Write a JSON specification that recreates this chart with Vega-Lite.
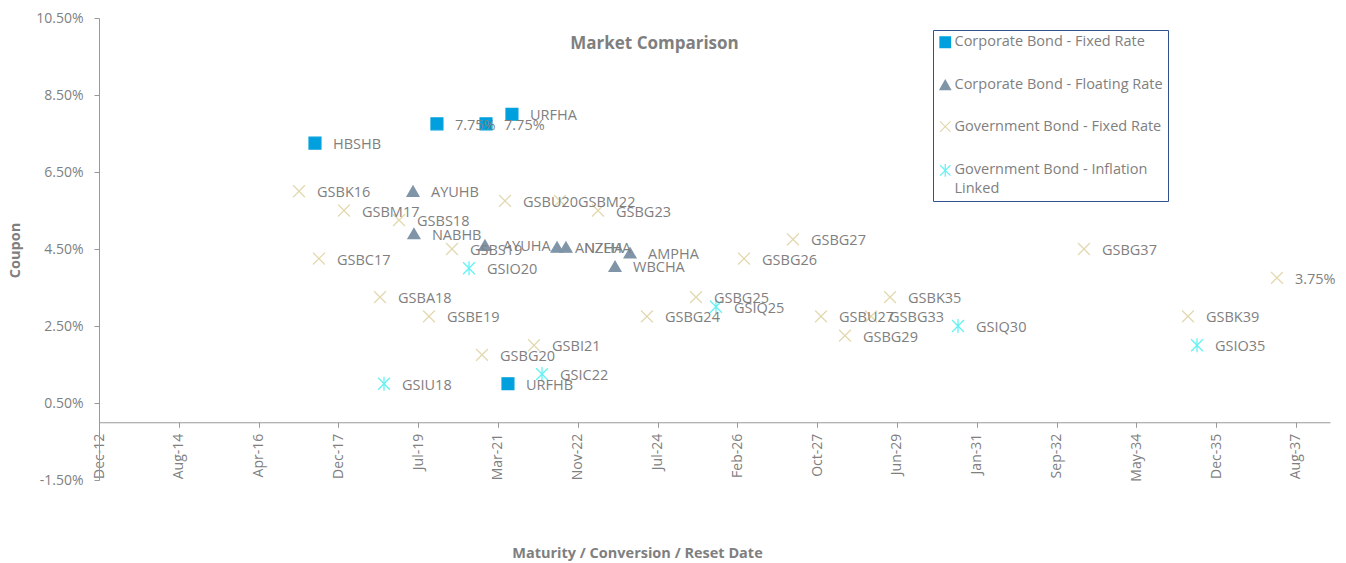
{
  "$schema": "https://vega.github.io/schema/vega-lite/v6.json",
  "width": 1231,
  "height": 462,
  "autosize": {"type": "none"},
  "padding": {"left": 99, "top": 18, "right": 16, "bottom": 83},
  "background": "white",
  "config": {"view": {"stroke": null}, "font": "Open Sans", "style": {"guide-label": {"lineHeight": 19}}},
  "title": {"text": "Market  Comparison", "anchor": "middle", "frame": "group", "dx": -60, "dy": 42, "offset": 0, "fontSize": 17, "fontWeight": "bold", "color": "#7F7F7F", "font": "Open Sans"},
  "data": {"values": [
    {"name": "HBSHB", "type": "Corporate Bond - Fixed Rate", "date": "2017-06-12", "coupon": 0.0725},
    {"name": "7.75%", "type": "Corporate Bond - Fixed Rate", "date": "2019-12-16", "coupon": 0.0775},
    {"name": "7.75%", "type": "Corporate Bond - Fixed Rate", "date": "2020-12-19", "coupon": 0.0775},
    {"name": "URFHA", "type": "Corporate Bond - Fixed Rate", "date": "2021-07-02", "coupon": 0.08},
    {"name": "URFHB", "type": "Corporate Bond - Fixed Rate", "date": "2021-06-02", "coupon": 0.01},
    {"name": "AYUHB", "type": "Corporate Bond - Floating Rate", "date": "2019-06-19", "coupon": 0.06},
    {"name": "NABHB", "type": "Corporate Bond - Floating Rate", "date": "2019-06-26", "coupon": 0.049},
    {"name": "AYUHA", "type": "Corporate Bond - Floating Rate", "date": "2020-12-11", "coupon": 0.046},
    {"name": "ANZHA", "type": "Corporate Bond - Floating Rate", "date": "2022-06-06", "coupon": 0.0455},
    {"name": "NZEHA", "type": "Corporate Bond - Floating Rate", "date": "2022-08-12", "coupon": 0.0455},
    {"name": "AMPHA", "type": "Corporate Bond - Floating Rate", "date": "2023-12-07", "coupon": 0.044},
    {"name": "WBCHA", "type": "Corporate Bond - Floating Rate", "date": "2023-08-16", "coupon": 0.0405},
    {"name": "GSBK16", "type": "Government Bond - Fixed Rate", "date": "2017-02-12", "coupon": 0.06},
    {"name": "GSBM17", "type": "Government Bond - Fixed Rate", "date": "2018-01-16", "coupon": 0.055},
    {"name": "GSBS18", "type": "Government Bond - Fixed Rate", "date": "2019-03-06", "coupon": 0.0525},
    {"name": "GSBC17", "type": "Government Bond - Fixed Rate", "date": "2017-07-12", "coupon": 0.0425},
    {"name": "GSBS19", "type": "Government Bond - Fixed Rate", "date": "2020-04-07", "coupon": 0.045},
    {"name": "GSBU20", "type": "Government Bond - Fixed Rate", "date": "2021-05-11", "coupon": 0.0575},
    {"name": "GSBM22", "type": "Government Bond - Fixed Rate", "date": "2022-06-28", "coupon": 0.0575},
    {"name": "GSBG23", "type": "Government Bond - Fixed Rate", "date": "2023-04-10", "coupon": 0.055},
    {"name": "GSBA18", "type": "Government Bond - Fixed Rate", "date": "2018-10-14", "coupon": 0.0325},
    {"name": "GSBE19", "type": "Government Bond - Fixed Rate", "date": "2019-10-17", "coupon": 0.0275},
    {"name": "GSBG20", "type": "Government Bond - Fixed Rate", "date": "2020-11-19", "coupon": 0.0175},
    {"name": "GSBI21", "type": "Government Bond - Fixed Rate", "date": "2021-12-15", "coupon": 0.02},
    {"name": "GSBG24", "type": "Government Bond - Fixed Rate", "date": "2024-04-12", "coupon": 0.0275},
    {"name": "GSBG25", "type": "Government Bond - Fixed Rate", "date": "2025-04-16", "coupon": 0.0325},
    {"name": "GSBG26", "type": "Government Bond - Fixed Rate", "date": "2026-04-12", "coupon": 0.0425},
    {"name": "GSBG27", "type": "Government Bond - Fixed Rate", "date": "2027-04-15", "coupon": 0.0475},
    {"name": "GSBU27", "type": "Government Bond - Fixed Rate", "date": "2027-11-12", "coupon": 0.0275},
    {"name": "GSBG33", "type": "Government Bond - Fixed Rate", "date": "2028-11-22", "coupon": 0.0275},
    {"name": "GSBG29", "type": "Government Bond - Fixed Rate", "date": "2028-05-10", "coupon": 0.0225},
    {"name": "GSBK35", "type": "Government Bond - Fixed Rate", "date": "2029-04-14", "coupon": 0.0325},
    {"name": "GSBG37", "type": "Government Bond - Fixed Rate", "date": "2033-04-11", "coupon": 0.045},
    {"name": "GSBK39", "type": "Government Bond - Fixed Rate", "date": "2035-06-02", "coupon": 0.0275},
    {"name": "3.75%", "type": "Government Bond - Fixed Rate", "date": "2037-04-01", "coupon": 0.0375},
    {"name": "GSIO20", "type": "Government Bond - Inflation Linked", "date": "2020-08-13", "coupon": 0.04},
    {"name": "GSIU18", "type": "Government Bond - Inflation Linked", "date": "2018-11-13", "coupon": 0.01},
    {"name": "GSIC22", "type": "Government Bond - Inflation Linked", "date": "2022-02-13", "coupon": 0.0125},
    {"name": "GSIQ25", "type": "Government Bond - Inflation Linked", "date": "2025-09-13", "coupon": 0.03},
    {"name": "GSIQ30", "type": "Government Bond - Inflation Linked", "date": "2030-09-07", "coupon": 0.025},
    {"name": "GSIO35", "type": "Government Bond - Inflation Linked", "date": "2035-08-09", "coupon": 0.02}
  ]},
  "encoding": {
    "x": {
      "field": "date", "type": "temporal",
      "scale": {"type": "utc", "domain": [{"year": 2012, "month": 12, "date": 31, "utc": true}, {"year": 2038, "month": 5, "date": 5, "utc": true}]},
      "axis": {
        "orient": "bottom", "offset": -57.75,
        "values": [
          {"year": 2012, "month": 12, "date": 31, "utc": true},
          {"year": 2014, "month": 8, "date": 23, "utc": true},
          {"year": 2016, "month": 4, "date": 14, "utc": true},
          {"year": 2017, "month": 12, "date": 5, "utc": true},
          {"year": 2019, "month": 7, "date": 28, "utc": true},
          {"year": 2021, "month": 3, "date": 19, "utc": true},
          {"year": 2022, "month": 11, "date": 9, "utc": true},
          {"year": 2024, "month": 7, "date": 1, "utc": true},
          {"year": 2026, "month": 2, "date": 21, "utc": true},
          {"year": 2027, "month": 10, "date": 14, "utc": true},
          {"year": 2029, "month": 6, "date": 5, "utc": true},
          {"year": 2031, "month": 1, "date": 26, "utc": true},
          {"year": 2032, "month": 9, "date": 17, "utc": true},
          {"year": 2034, "month": 5, "date": 10, "utc": true},
          {"year": 2035, "month": 12, "date": 31, "utc": true},
          {"year": 2037, "month": 8, "date": 22, "utc": true}
        ],
        "labelExpr": "utcFormat(datum.value, '%b-%y')",
        "labelAngle": -90, "labelAlign": "right", "labelBaseline": "middle",
        "labelPadding": 6, "tickSize": 5, "grid": false,
        "labelFlush": false, "labelOverlap": false,
        "domainColor": "#999999", "tickColor": "#999999",
        "labelColor": "#7F7F7F", "labelFontSize": 14, "labelFont": "Open Sans",
        "title": "Maturity / Conversion / Reset Date",
        "titleFont": "Open Sans", "titleFontSize": 14.5, "titleFontWeight": "bold", "titleColor": "#7F7F7F",
        "titleX": 538, "titleY": 131, "titleAlign": "center", "titleBaseline": "middle"
      }
    },
    "y": {
      "field": "coupon", "type": "quantitative",
      "scale": {"domain": [-0.015, 0.105], "zero": false, "nice": false},
      "axis": {
        "values": [-0.015, 0.005, 0.025, 0.045, 0.065, 0.085, 0.105],
        "labelExpr": "replace(format(datum.value, '.2%'), '\u2212', '-')",
        "grid": false, "tickSize": 5, "labelPadding": 11,
        "domainColor": "#999999", "tickColor": "#999999",
        "labelColor": "#7F7F7F", "labelFontSize": 14, "labelFont": "Open Sans",
        "title": "Coupon", "titleFont": "Open Sans", "titleFontSize": 14.5, "titleFontWeight": "bold", "titleColor": "#7F7F7F",
        "titleX": -84, "titleY": 232, "titleAngle": -90, "titleAlign": "center", "titleBaseline": "middle"
      }
    }
  },
  "layer": [
    {
      "mark": {"type": "point", "size": 140, "strokeWidth": 1.3, "opacity": 1},
      "encoding": {
        "shape": {"field": "type", "type": "nominal", "scale": {"domain": ["Corporate Bond - Fixed Rate", "Corporate Bond - Floating Rate", "Government Bond - Fixed Rate", "Government Bond - Inflation Linked"], "range": ["square", "triangle-up", "M-1,-1L1,1M-1,1L1,-1", "M-1,-1L1,1M-1,1L1,-1M0,-1.2L0,1.2"]},
          "legend": {"orient": "none", "legendX": 834, "legendY": 12, "title": null, "strokeColor": "#2F528F", "fillColor": "white", "padding": 5, "labelFontSize": 14.5, "labelColor": "#7F7F7F", "labelFont": "Open Sans", "symbolSize": 110, "rowPadding": 25.7, "labelLimit": 400, "labelOffset": 2, "symbolStrokeWidth": 1.3,
            "labelExpr": "datum.label == 'Government Bond - Inflation Linked' ? ['Government Bond - Inflation', 'Linked'] : datum.label"}},
        "fill": {"field": "type", "type": "nominal", "scale": {"domain": ["Corporate Bond - Fixed Rate", "Corporate Bond - Floating Rate", "Government Bond - Fixed Rate", "Government Bond - Inflation Linked"], "range": ["#00A0DE", "#8095A8", "#E3D9B0", "#66F2F5"]}},
        "stroke": {"field": "type", "type": "nominal", "scale": {"domain": ["Corporate Bond - Fixed Rate", "Corporate Bond - Floating Rate", "Government Bond - Fixed Rate", "Government Bond - Inflation Linked"], "range": ["#00A0DE", "#8095A8", "#E3D9B0", "#66F2F5"]}}
      }
    },
    {
      "mark": {"type": "text", "align": "left", "baseline": "middle", "dx": 18, "dy": 2, "fontSize": 14.5, "color": "#7F7F7F", "font": "Open Sans"},
      "encoding": {"text": {"field": "name", "type": "nominal"}}
    }
  ]
}
